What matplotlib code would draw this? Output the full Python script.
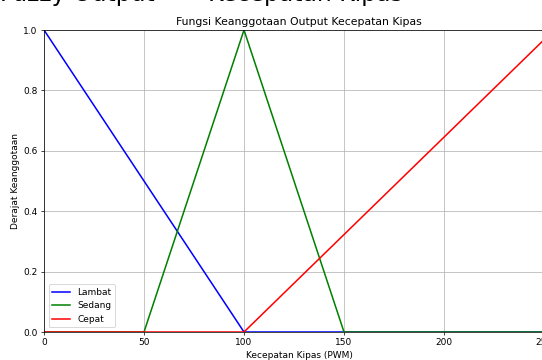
import matplotlib.pyplot as plt

# breakpoints of the output membership functions (PWM 0-255)
lambat_x = [0, 100, 255]
lambat_y = [1, 0, 0]
sedang_x = [0, 50, 100, 150, 255]
sedang_y = [0, 0, 1, 0, 0]
cepat_x = [0, 100, 255]
cepat_y = [0, 0, 1]

DPI = 65
fig = plt.figure(figsize=(542 / DPI, 360 / DPI), dpi=DPI)
ax = fig.add_axes([44 / 542, 28 / 360, 510 / 542, 302 / 360])

ax.plot(lambat_x, lambat_y, 'b', label='Lambat', lw=1.7)
ax.plot(sedang_x, sedang_y, 'g', label='Sedang', lw=1.7)
ax.plot(cepat_x, cepat_y, 'r', label='Cepat', lw=1.7)

ax.set_xlim(0, 255)
ax.set_ylim(0, 1)
ax.set_title('Fungsi Keanggotaan Output Kecepatan Kipas')
ax.set_xlabel('Kecepatan Kipas (PWM)')
ax.set_ylabel('Derajat Keanggotaan')
ax.legend(loc='lower left')
ax.grid(True)

# big heading of the original figure, mostly cut off at the top
fig.text(403 / 542, 359 / 360, 'Fuzzy Output   -   Kecepatan Kipas',
         fontsize=26, ha='right', va='baseline')

fig.savefig('out.png', dpi=DPI)
